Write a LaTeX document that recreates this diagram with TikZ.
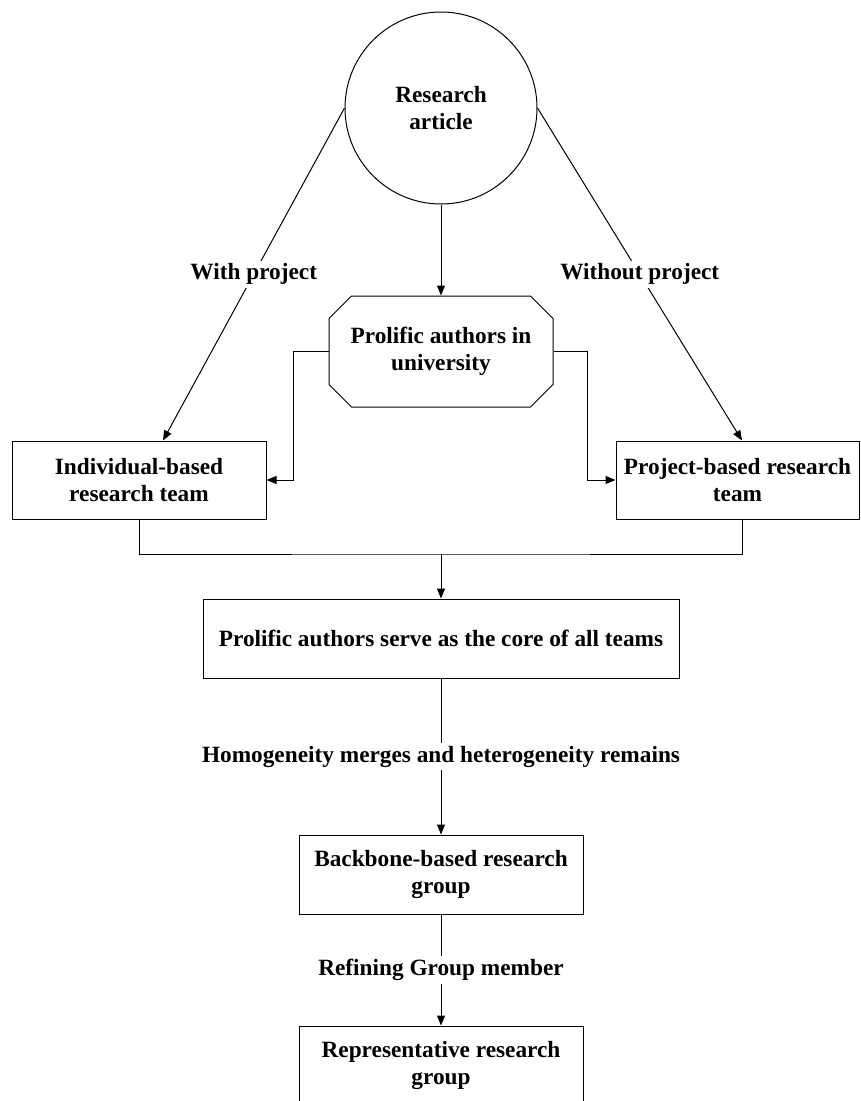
\documentclass[tikz,border=0pt]{standalone}
\usepackage{fontspec}
\setmainfont{Liberation Serif}
\usetikzlibrary{shapes.misc, arrows.meta, positioning}
\tikzset{
  txt/.style={font=\bfseries\fontsize{23.3}{27}\selectfont, align=center},
  box/.style={txt, rectangle, draw, line width=1pt, inner sep=2pt,
              minimum height=79pt},
  arr/.style={-{Triangle[length=10pt,width=8pt]}, line width=1pt},
  lnk/.style={line width=1pt},
  lbl/.style={txt, fill=white, inner sep=3pt}
}
\begin{document}
\begin{tikzpicture}[x=1pt, y=1pt]
  \useasboundingbox (0,0) rectangle (860,-1101);

  %% Source and university authors
  \node[box, circle, minimum size=192pt] (article) at (441,-108) {Research\\article};
  \node[box, chamfered rectangle, chamfered rectangle xsep=11.5pt,
        chamfered rectangle ysep=11pt, minimum width=224pt, minimum height=111pt]
    (uni) at (441,-351.5) {Prolific authors in\\university};

  %% Two kinds of team
  \node[box, minimum width=254pt, minimum height=78pt] (indiv) at (139,-480)
    {Individual-based\\research team};
  \node[box, minimum width=243pt, minimum height=78pt] (proj) at (737.5,-480)
    {Project-based research\\team};

  %% Core and groups
  \node[box, minimum width=476pt] (core) at (441,-638.5)
    {Prolific authors serve as the core of all teams};
  \node[box, minimum width=284pt] (backbone) at (441,-874.5)
    {Backbone-based research\\group};
  \node[box, minimum width=284pt] (repr) at (441,-1065.5)
    {Representative research\\group};
  \coordinate (join) at (441,-554);

  %% Connectors
  \draw[arr] (article.south) -- (uni.north);
  \draw[arr] (article.west) -- node[lbl]{With project} ([xshift=24pt]indiv.north);
  \draw[arr] (article.east) -- node[lbl]{Without project} ([xshift=4.5pt]proj.north);
  \draw[arr] (uni.west) -- ++(-35,0) |- (indiv.east);
  \draw[arr] (uni.east) -- ++(34,0) |- (proj.west);
  \draw[lnk] (indiv.south) |- (join) -| ([xshift=5pt]proj.south);
  \draw[arr] (join) -- (core.north);
  \draw[arr] (core.south) -- node[lbl]{Homogeneity merges and heterogeneity remains} (backbone.north);
  \draw[arr] (backbone.south) -- node[lbl]{Refining Group member} (repr.north);

\end{tikzpicture}
\end{document}
